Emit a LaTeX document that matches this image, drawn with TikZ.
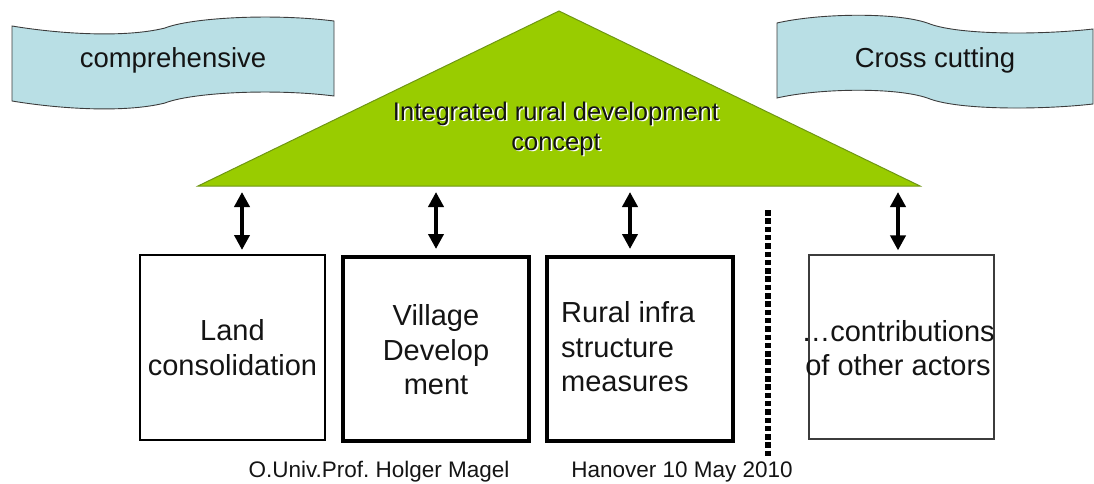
\documentclass[tikz,border=0pt]{standalone}
\usepackage{fontspec}
\setmainfont{Liberation Sans}
\usetikzlibrary{arrows.meta}
\definecolor{leafgreen}{RGB}{153,204,0}
\definecolor{leafedge}{RGB}{110,150,20}
\definecolor{aqua}{RGB}{185,223,229}
\definecolor{inkgray}{RGB}{60,60,60}
\definecolor{txt}{RGB}{20,20,20}
\frenchspacing
\tikzset{
  bannershape/.style={fill=aqua, draw=inkgray, line width=0.9pt},
  bannertext/.style={font=\fontsize{27.5}{33}\selectfont, text=txt, anchor=base, inner sep=0pt},
  boxthin/.style={draw=black, line width=2pt, minimum width=185pt, minimum height=185pt, inner sep=0pt},
  boxthick/.style={draw=black, line width=4pt, minimum width=186pt, minimum height=184pt, inner sep=0pt},
  boxlight/.style={draw=inkgray, line width=1.2pt, minimum width=185pt, minimum height=184pt, inner sep=0pt},
  boxtext/.style={font=\fontsize{29}{34.5}\selectfont, text=txt, inner sep=0pt},
  dblarrow/.style={line width=4pt, {Triangle[width=15pt,length=15pt]}-{Triangle[width=15pt,length=15pt]}},
  foot/.style={font=\fontsize{22.5}{27}\selectfont, text=txt, anchor=base, inner sep=0pt},
  tritext/.style={font=\fontsize{25.5}{30}\selectfont, align=center, inner sep=0pt},
}
\begin{document}
\begin{tikzpicture}[x=1pt,y=-1pt]
\useasboundingbox (0,0) rectangle (1094,484);
% banners
\draw[bannershape] (12,26) .. controls (60,34) and (125,38) .. (165,28)
  .. controls (190,18) and (270,13) .. (334,21) -- (334,96)
  .. controls (270,88) and (190,93) .. (165,103)
  .. controls (125,113) and (60,109) .. (12,101) -- cycle;
\node[bannertext] (comp) at (173,68) {comprehensive};
\draw[bannershape] (777,23) .. controls (820,13) and (900,12) .. (930,24)
  .. controls (960,35) and (1040,35) .. (1093,29) -- (1093,104)
  .. controls (1040,110) and (960,110) .. (930,99)
  .. controls (900,87) and (820,88) .. (777,98) -- cycle;
\node[bannertext] (cross) at (935,68) {Cross cutting};
% triangle
\coordinate (apex) at (559,11);
\coordinate (bl) at (198,186);
\coordinate (br) at (920,186);
\filldraw[fill=leafgreen, draw=leafedge, line width=1pt] (apex) -- (br) -- (bl) -- cycle;
\node[tritext, text=white] (trishadow) at (557.6,130.4) {Integrated rural development\\concept};
\node[tritext, text=txt] (tritxt) at (556,129) {Integrated rural development\\concept};
% boxes
\node[boxthin] (land) at (232.5,347.5) {};
\node[boxthick] (village) at (436,349) {};
\node[boxthick] (rural) at (639.5,349) {};
\node[boxlight] (contrib) at (901.5,347) {};
\node[boxtext, align=center] (landtxt) at (land.center) {Land\\consolidation};
\node[boxtext, align=center] (villagetxt) at (436,350) {Village\\Develop\\ment};
\node[boxtext, align=left, anchor=west] (ruraltxt) at (561,347) {Rural infra\\structure\\measures};
\node[boxtext, align=center] (contribtxt) at (898,348) {\ldots contributions\\of other actors};
% arrows
\coordinate (a1) at (242,192);
\coordinate (a2) at (436,192);
\coordinate (a3) at (630,192);
\coordinate (a4) at (898,192);
\draw[dblarrow, shorten >=4pt] (a1) -- (a1 |- land.north);
\draw[dblarrow, shorten >=6pt] (a2) -- (a2 |- village.north);
\draw[dblarrow, shorten >=6pt] (a3) -- (a3 |- rural.north);
\draw[dblarrow, shorten >=4pt] (a4) -- (a4 |- contrib.north);
% dotted divider
\coordinate (d1) at (768,210);
\coordinate (d2) at (768,458);
\draw[line width=5.5pt, dash pattern=on 5.5pt off 2.8pt] (d1) -- (d2);
% footer
\node[foot] (author) at (379,477) {O.Univ.Prof. Holger Magel};
\node[foot] (date) at (682,477) {Hanover 10 May 2010};
\end{tikzpicture}
\end{document}
